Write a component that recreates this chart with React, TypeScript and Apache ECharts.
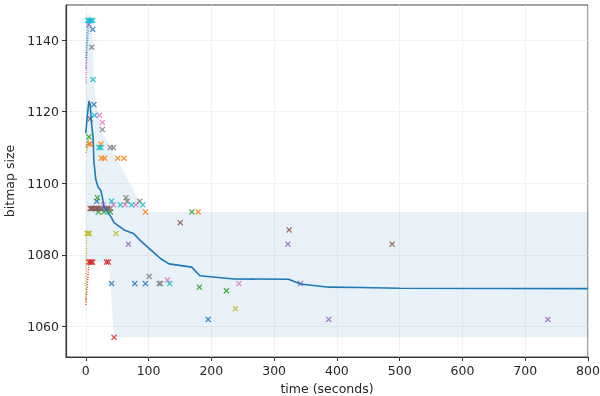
import React, { useEffect, useRef } from "react";
import * as echarts from "echarts";

const xTicks = [0, 100, 200, 300, 400, 500, 600, 700, 800];
const yTicks = [1060, 1080, 1100, 1120, 1140];

// mean line
const meanLine: number[][] = [
  [0, 1114], [2, 1118], [5, 1123], [7, 1122], [9, 1117], [11.6, 1113], [13, 1106], [16, 1101],
  [19.6, 1099], [24, 1098], [26.5, 1096], [29, 1093.5], [34.5, 1092], [40, 1090.7], [45, 1089],
  [61, 1087], [76, 1086], [87, 1084], [100, 1082], [119, 1079], [132.5, 1077.5], [168.6, 1076.6],
  [181.8, 1074.2], [236, 1073.3], [323, 1073.2], [342, 1071.9], [387, 1071], [437, 1070.9],
  [500, 1070.7], [800, 1070.6],
];

// min / max band
const bandUpper: number[][] = [
  [0, 1147], [7, 1147], [10, 1146], [13, 1130], [16, 1122], [20, 1119], [24, 1115], [95, 1092], [800, 1092],
];
const bandLower: number[][] = [
  [0, 1066], [1, 1078], [37, 1078], [45, 1057], [800, 1057],
];

const blueX = [[11, 1143], [13, 1122], [17.5, 1095], [17.5, 1093], [26, 1093], [34, 1093], [41, 1072], [78, 1072], [95, 1072], [195, 1062]];
const orangeX = [[5, 1111], [7, 1111], [24, 1111], [25, 1107], [30, 1107], [51, 1107], [61, 1107], [95, 1092], [179, 1092]];
const greenX = [[5, 1113], [18.5, 1096], [20, 1092], [29, 1092], [39, 1092], [169, 1092], [181, 1071], [224, 1070]];
const redX = [[5, 1078], [7, 1078], [9, 1078], [11, 1078], [33, 1078], [36, 1078], [45, 1057]];
const purpleX = [[5, 1144.4], [68, 1083], [322, 1083], [342, 1072], [387, 1062], [736, 1062]];
const brownX = [[7, 1118], [7, 1093], [9, 1093], [11, 1093], [14, 1093], [17, 1093], [20, 1093], [23, 1093], [30, 1093], [35, 1093], [39, 1093], [150.6, 1089], [324, 1087], [488, 1083]];
const pinkX = [[22, 1119], [26.5, 1117], [28, 1094], [44, 1094], [62.5, 1094], [80, 1094], [130, 1073], [244, 1072]];
const grayX = [[9.5, 1138], [26.5, 1115], [39, 1110], [44, 1110], [64, 1096], [66, 1095], [86, 1095], [101, 1074], [117, 1072], [119, 1072]];
const oliveX = [[2, 1086], [4, 1086], [6, 1086], [48, 1086], [238.5, 1065]];
const cyanX = [[3, 1145.5], [5, 1145.5], [7, 1145.5], [9, 1145.5], [11, 1145.5], [11.6, 1129], [14, 1119], [21, 1110], [24, 1110], [41, 1095], [55, 1094], [73, 1094], [91, 1094], [133.6, 1072]];

// dotted start traces
const purpleStart = [[0, 1132], [2, 1138], [5, 1144.5]];
const cyanStart = [[0, 1135], [3, 1145.5]];
const pinkStart = [[0, 1128], [2, 1137]];
const orangeStart = [[0, 1108.5], [5, 1111]];
const greenStart = [[0, 1110], [5, 1113]];
const redStart = [[0, 1066], [5, 1078]];
const oliveStart = [[0, 1067], [1, 1086]];

const XPATH = "path://M0,1.5L1.5,0L5,3.5L8.5,0L10,1.5L6.5,5L10,8.5L8.5,10L5,6.5L1.5,10L0,8.5L3.5,5Z";

const runs: { color: string; pts: number[][]; start?: number[][] }[] = [
  { color: "#1f77b4", pts: blueX },
  { color: "#ff7f0e", pts: orangeX, start: orangeStart },
  { color: "#2ca02c", pts: greenX, start: greenStart },
  { color: "#d62728", pts: redX, start: redStart },
  { color: "#9467bd", pts: purpleX, start: purpleStart },
  { color: "#8c564b", pts: brownX },
  { color: "#e377c2", pts: pinkX, start: pinkStart },
  { color: "#7f7f7f", pts: grayX },
  { color: "#bcbd22", pts: oliveX, start: oliveStart },
  { color: "#17becf", pts: cyanX, start: cyanStart },
];

const FONT = "DejaVu Sans";
const TXT = "#262626";

export default function App() {
  const ref = useRef<HTMLDivElement>(null);
  useEffect(() => {
    if (!ref.current) return;
    const chart = echarts.init(ref.current, undefined, { renderer: "svg" });
    const series: any[] = [];
    series.push({
      type: "custom",
      silent: true,
      z: 1,
      data: [[0, 1100]],
      encode: { x: 0, y: 1 },
      renderItem: (_p: any, api: any) => {
        const pts = [
          ...bandUpper.map((p) => api.coord(p)),
          ...bandLower.slice().reverse().map((p) => api.coord(p)),
        ];
        return { type: "polygon", shape: { points: pts }, style: { fill: "rgba(31,119,180,0.1)" } };
      },
    });
    runs.forEach((r) => {
      if (r.start) {
        series.push({
          type: "line",
          data: r.start,
          symbol: "none",
          z: 3,
          lineStyle: { color: r.color, width: 1.4, type: [1, 1.5] },
        });
      }
      series.push({
        type: "scatter",
        data: r.pts,
        symbol: XPATH,
        symbolSize: 6,
        z: 4,
        itemStyle: { color: r.color, opacity: 0.85 },
      });
    });
    series.push({
      type: "line",
      data: meanLine,
      symbol: "none",
      z: 5,
      lineStyle: { color: "#1f77b4", width: 1.6 },
    });

    chart.setOption({
      animation: false,
      textStyle: { fontFamily: FONT },
      grid: {
        left: 66, right: 12, top: 5, bottom: 39, show: true, borderColor: "#444", borderWidth: 1,
        containLabel: false, outerBoundsMode: "none",
      },
      xAxis: {
        type: "value",
        min: -31.5,
        max: 800,
        name: "time (seconds)",
        nameLocation: "middle",
        nameGap: 22,
        nameTextStyle: { color: TXT, fontSize: 12.5, fontFamily: FONT },
        axisLine: { show: true, onZero: false, lineStyle: { color: "#333", width: 1.2 } },
        axisTick: { show: true, length: 4, customValues: xTicks, lineStyle: { color: "#333" } },
        axisLabel: { customValues: xTicks, color: TXT, fontSize: 12.5, margin: 7, fontFamily: FONT, formatter: (v: number) => String(v) },
        splitLine: { show: true, lineStyle: { color: "#efefef", width: 0.8 } },
      },
      yAxis: {
        type: "value",
        min: 1051.5,
        max: 1149.8,
        name: "bitmap size",
        nameLocation: "middle",
        nameGap: 41,
        nameTextStyle: { color: TXT, fontSize: 12.5, fontFamily: FONT },
        axisLine: { show: true, onZero: false, lineStyle: { color: "#333", width: 1.2 } },
        axisTick: { show: true, length: 4, customValues: yTicks, lineStyle: { color: "#333" } },
        axisLabel: { customValues: yTicks, color: TXT, fontSize: 12.5, margin: 7, fontFamily: FONT, formatter: (v: number) => String(v) },
        splitLine: { show: true, lineStyle: { color: "#efefef", width: 0.8 } },
      },
      series,
    });
    return () => chart.dispose();
  }, []);
  return <div ref={ref} style={{ position: "fixed", left: 0, top: 0, width: 600, height: 396 }} />;
}
